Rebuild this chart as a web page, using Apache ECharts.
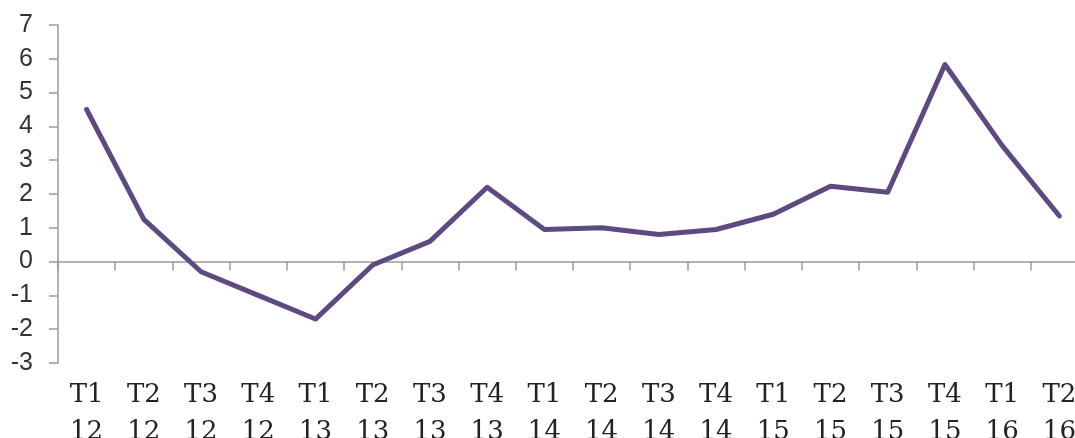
<!DOCTYPE html>
<html>
<head>
<meta charset="utf-8">
<script src="https://cdn.jsdelivr.net/npm/echarts@6/dist/echarts.min.js"></script>
<style>
html,body{margin:0;padding:0;background:#fff;}
#chart{width:1075px;height:438px;}
</style>
</head>
<body>
<div id="chart"></div>
<script>
const categories = ["T1\n12","T2\n12","T3\n12","T4\n12","T1\n13","T2\n13","T3\n13","T4\n13","T1\n14","T2\n14","T3\n14","T4\n14","T1\n15","T2\n15","T3\n15","T4\n15","T1\n16","T2\n16"];
const values = [4.5, 1.25, -0.3, -1.0, -1.7, -0.1, 0.6, 2.2, 0.95, 1.0, 0.8, 0.95, 1.4, 2.23, 2.05, 5.83, 3.43, 1.35];
const yMin = -3, yMax = 7, yStep = 1;

const chart = echarts.init(document.getElementById('chart'), null, {renderer: 'canvas'});
chart.setOption({
  animation: false,
  backgroundColor: '#fff',
  grid: {left: 58, right: -13, top: 25, bottom: 75, containLabel: false, outerBoundsMode: 'none'},
  xAxis: [
    {
      type: 'category', data: categories, boundaryGap: true,
      axisLine: {show: true, onZero: true, lineStyle: {color: '#9a9a9a', width: 1.5}},
      axisTick: {show: true, length: 9, lineStyle: {color: '#9a9a9a', width: 1.5}},
      axisLabel: {show: false},
      splitLine: {show: false}
    },
    {
      type: 'category', data: categories, boundaryGap: true, position: 'bottom',
      axisLine: {show: false, onZero: false},
      axisTick: {show: false},
      axisLabel: {show: true, interval: 0, margin: 14, color: '#222',
        fontFamily: 'DejaVu Serif', fontSize: 26, lineHeight: 37},
      splitLine: {show: false}
    }
  ],
  yAxis: {
    type: 'value', min: yMin, max: yMax, interval: yStep,
    axisLine: {show: true, lineStyle: {color: '#9a9a9a', width: 1.5}},
    axisTick: {show: true, length: 9, lineStyle: {color: '#9a9a9a', width: 1.5}},
    axisLabel: {color: '#333', fontFamily: 'Liberation Sans', fontSize: 25, margin: 25},
    splitLine: {show: false}
  },
  series: [{
    type: 'line', data: values, xAxisIndex: 0,
    symbol: 'none', smooth: false,
    lineStyle: {color: '#5c4a80', width: 5, cap: 'round', join: 'round'}
  }]
});
</script>
</body>
</html>
